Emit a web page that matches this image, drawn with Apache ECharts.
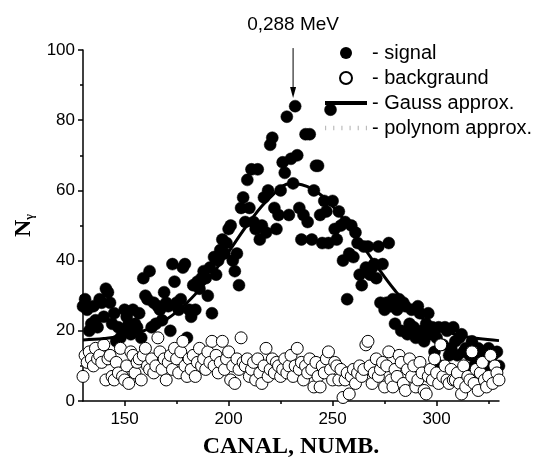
<!DOCTYPE html>
<html><head><meta charset="utf-8">
<script src="https://cdn.jsdelivr.net/npm/echarts@6/dist/echarts.min.js"></script>
<style>html,body{margin:0;padding:0;background:#fff}#c{width:534px;height:460px}</style>
</head><body><div id="c"></div>
<script>
// channel of the first value in each series
const xStart = 130;
// signal counts, channels 130..330
const signalValues = [
 27,29,26,20,22,27,23,21,29,28, 24,32,31,28,22,25,17,21,18,20,
 26,24,22,19,26,22,21,25,18,35, 30,29,37,21,28,22,27,26,23,31,
 28,27,20,39,34,28,26,29,38,39, 18,26,24,33,26,34,32,35,37,35,
 30,38,25,41,36,40,43,46,42,45, 49,50,40,37,42,33,55,58,51,63,
 55,66,51,49,66,46,50,58,48,60, 73,75,55,49,53,60,68,65,81,53,
 69,62,84,70,55,46,53,76,51,76, 46,60,67,67,53,45,57,54,45,83,
 57,49,46,54,50,40,51,29,42,50, 41,48,45,36,33,44,38,44,36,38,
 39,35,44,28,39,26,28,45,27,29, 22,26,29,20,28,27,19,22,26,21,
 18,27,25,20,17,22,25,19,21,14, 18,21,10,16,21,20,13,15,21,17,
 13,18,19,14,15,9,13,17,10,12, 15,9,14,12,8,15,11,13,9,14,
 10
];
// background counts, channels 130..330
const backgroundValues = [
 7,13,11,14,12,10,15,12,13,11, 16,6,12,13,7,6,11,8,15,7,
 6,10,5,14,13,8,11,12,6,13, 15,10,9,12,8,10,18,14,9,12,
 6,11,13,9,15,12,8,14,17,10, 7,12,9,13,7,11,15,10,12,9,
 14,11,17,10,13,8,11,17,9,12, 14,6,10,5,12,9,18,11,10,12,
 7,9,11,6,12,8,5,10,15,7, 9,12,8,11,10,7,9,12,8,10,
 13,7,10,15,9,11,6,10,8,12, 9,4,11,7,4,10,8,12,14,9,
 6,11,10,6,9,1,6,8,2,7, 9,5,8,10,7,9,16,17,10,5,
 8,12,7,9,11,4,10,14,6,4, 9,7,13,11,5,3,9,12,7,10,
 4,6,11,8,3,2,7,9,6,12, 8,5,16,7,10,6,5,9,6,6,
 8,5,2,10,4,7,6,14,5,9, 3,8,11,6,4,7,13,5,10,8,
 6
];
// Gauss approximation
const gaussX = [130,140,150,160,170,180,190,200,210,220,230,240,250,260,270,280,290,300,310,320,330];
const gaussY = [17.4,17.8,18.6,20.2,23.2,28,34.5,42.5,51,58,62,60.5,55.5,48,39.5,31.5,25,21,18.8,17.8,17.2];
// polynomial approximation: not visible in the plot area
const polyX = [];
const polyY = [];
const xTicks = [150,200,250,300];
const xMinorTicks = [175,225,275,325];
const peakLabel = '0,288 MeV';
const peakChannel = 231;
const peakTipValue = 86.3;

const signal = signalValues.map((v,i)=>[xStart+i, v]);
const background = backgroundValues.map((v,i)=>[xStart+i, v]);
const gauss = gaussX.map((x,i)=>[x, gaussY[i]]);
const poly = polyX.map((x,i)=>[x, polyY[i]]);

const sans = 'Liberation Sans';
const serif = 'Liberation Serif';
const chart = echarts.init(document.getElementById('c'), null, {renderer:'canvas'});
chart.setOption({
  animation:false,
  backgroundColor:'#fff',
  grid:{left:83, right:35, top:50, bottom:59, containLabel:false, outerBoundsMode:'none'},
  legend:{
    orient:'vertical', left:320, top:38, itemWidth:42, itemHeight:12, itemGap:5,
    formatter:'- {name}', selectedMode:false,
    textStyle:{fontFamily:sans, fontSize:20, color:'#000'},
    data:[
      {name:'signal', icon:'circle', itemStyle:{color:'#000', borderWidth:0}},
      {name:'backgraund', icon:'path://M10,5A5,5,0,1,1,0,5A5,5,0,1,1,10,5Z', itemStyle:{color:'#fff', borderColor:'#000', borderWidth:2}},
      {name:'Gauss approx.', icon:'path://M0,0H42V4H0Z', itemStyle:{color:'#000', borderWidth:0}},
      {name:'polynom approx.', icon:'path://M0,0h1v4h-1zM7,0h1v4h-1zM14,0h1v4h-1zM21,0h1v4h-1zM28,0h1v4h-1zM35,0h1v4h-1z', itemStyle:{color:'#bbb', borderWidth:0}}
    ]
  },
  xAxis:[{
    type:'value', min:130, max:330, position:'bottom',
    axisLine:{lineStyle:{color:'#000', width:1.5}},
    axisTick:{customValues:xTicks, length:5, lineStyle:{color:'#000', width:1.5}},
    axisLabel:{customValues:xTicks, margin:10, color:'#000', fontSize:17, fontFamily:sans},
    splitLine:{show:false},
    name:'CANAL, NUMB.', nameLocation:'middle', nameGap:34,
    nameTextStyle:{fontFamily:serif, fontWeight:'bold', fontSize:24, color:'#000'}
  },{
    type:'value', min:130, max:330, position:'bottom', offset:0,
    axisLine:{show:false},
    axisTick:{customValues:xMinorTicks, length:3, lineStyle:{color:'#000', width:1.5}},
    axisLabel:{show:false}, splitLine:{show:false}
  }],
  yAxis:{
    type:'value', min:0, max:100, interval:20,
    axisLine:{show:true, lineStyle:{color:'#000', width:1.5}},
    axisTick:{show:true, length:5, lineStyle:{color:'#000', width:1.5}},
    minorTick:{show:true, splitNumber:2, length:3, lineStyle:{color:'#000', width:1.5}},
    axisLabel:{margin:8, color:'#000', fontSize:17, fontFamily:sans},
    splitLine:{show:false},
    name:'{n|N}{s|γ}', nameLocation:'middle', nameGap:42, nameRotate:90,
    nameTextStyle:{rich:{
      n:{fontFamily:serif, fontWeight:'bold', fontSize:24, color:'#000'},
      s:{fontFamily:serif, fontWeight:'bold', fontSize:12, color:'#000', verticalAlign:'bottom'}
    }}
  },
  series:[
    {name:'signal', type:'scatter', data:signal, symbol:'circle', symbolSize:12, z:2,
     itemStyle:{color:'#000', borderColor:'#000', borderWidth:0.5, opacity:1}},
    {name:'backgraund', type:'scatter', data:background, symbol:'circle', symbolSize:12, z:3,
     itemStyle:{color:'#fff', borderColor:'#000', borderWidth:1, opacity:1}},
    {name:'Gauss approx.', type:'line', data:gauss, smooth:0.4, showSymbol:false, symbol:'none', z:4,
     color:'#000', lineStyle:{color:'#000', width:3}},
    {name:'polynom approx.', type:'line', data:poly, showSymbol:false, symbol:'none', z:4,
     color:'#bbb', lineStyle:{color:'#bbb', width:1, type:'dotted'}}
  ]
});

const tip = chart.convertToPixel({xAxisIndex:0, yAxisIndex:0}, [peakChannel, peakTipValue]);
chart.setOption({
  graphic:[
    {type:'text', x:tip[0], y:25, z:10,
     style:{text:peakLabel, fill:'#000', font:'19px "Liberation Sans"', align:'center', verticalAlign:'middle'}},
    {type:'line', z:10, shape:{x1:tip[0], y1:tip[1]-50, x2:tip[0], y2:tip[1]-8}, style:{stroke:'#000', lineWidth:1}},
    {type:'polygon', z:10, shape:{points:[[tip[0]-3, tip[1]-11],[tip[0]+3, tip[1]-11],[tip[0], tip[1]]]}, style:{fill:'#000'}}
  ]
});
</script>
</body></html>
